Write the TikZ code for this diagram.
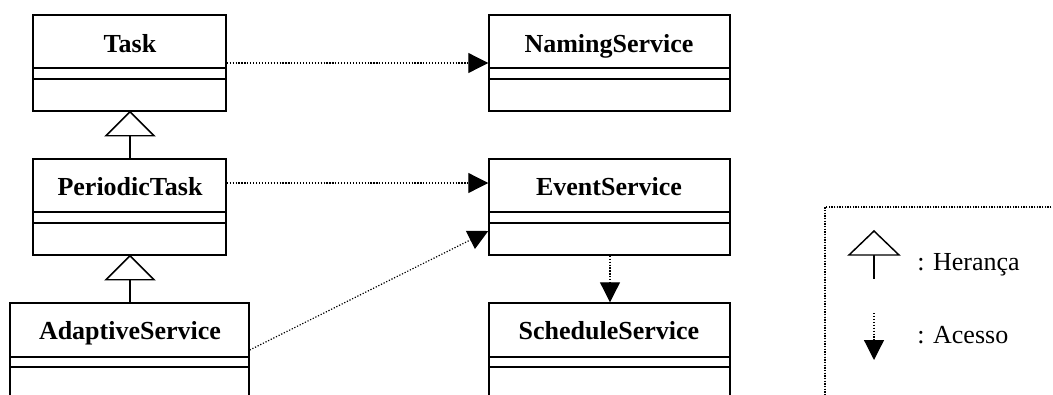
\documentclass[tikz,border=0pt]{standalone}
\usepackage{fontspec}
\setmainfont{Liberation Serif}
\usetikzlibrary{arrows.meta,fit}
\begin{document}
\begin{tikzpicture}[x=0.75pt,y=-0.75pt,
  cls/.style={draw, line width=1.1pt, inner sep=0pt, fit={#1}},
  title/.style={font=\fontsize{19.5}{23}\selectfont\bfseries, anchor=base, inner sep=0pt},
  legtext/.style={font=\fontsize{19.5}{23}\selectfont, anchor=base west, inner sep=0pt},
  div/.style={line width=1.1pt},
  access/.style={line width=0.9pt, dash pattern=on 0.9pt off 1.3pt, -{Triangle[length=15pt,width=15pt]}},
  inherit/.style={line width=1.1pt, fill=white},
  legbox/.style={line width=0.9pt, dash pattern=on 0.9pt off 1.1pt}
]
\useasboundingbox (0,0) rectangle (1053,394);
\clip (0,0) rectangle (1053,394);

% classes
\node[cls={(33,15)(226,111)}] (task) {};
\node[cls={(33,159)(226,255)}] (periodic) {};
\node[cls={(10,303)(249,430)}] (adaptive) {};
\node[cls={(489,15)(730,111)}] (naming) {};
\node[cls={(489,159)(730,255)}] (event) {};
\node[cls={(489,303)(730,430)}] (schedule) {};

% titles
\node[title] (taskT) at (130,52) {Task};
\node[title] (periodicT) at (130,195) {PeriodicTask};
\node[title] (adaptiveT) at (130,339) {AdaptiveService};
\node[title] (namingT) at (609,52) {NamingService};
\node[title] (eventT) at (609,195) {EventService};
\node[title] (scheduleT) at (609,339) {ScheduleService};

% dividers
\foreach \n/\a/\b in {task/68/79, naming/68/79, periodic/212/223, event/212/223, adaptive/357/367, schedule/357/367}{
  \draw[div] (\n.west |- 0,\a) -- (\n.east |- 0,\a);
  \draw[div] (\n.west |- 0,\b) -- (\n.east |- 0,\b);
}

% inheritance
\coordinate (i1) at (130,135);
\coordinate (i2) at (130,279);
\draw[line width=1.1pt] (i1) -- (periodic.north -| i1);
\draw[inherit] (task.south -| i1) -- ++(-24,24) -- ++(48,0) -- cycle;
\draw[line width=1.1pt] (i2) -- (adaptive.north -| i2);
\draw[inherit] (periodic.south -| i2) -- ++(-24,24) -- ++(48,0) -- cycle;

% access
\draw[access] (task.east |- 0,63) -- (naming.west |- 0,63);
\draw[access] (periodic.east |- 0,183) -- (event.west |- 0,183);
\draw[access] (adaptive.east |- 0,350) -- (event.west |- 0,231);
\draw[access] (event.south -| 610,0) -- (schedule.north -| 610,0);

% legend
\node[legbox, draw, inner sep=0pt, fit={(825,207)(1070,410)}] (legend) {};
\coordinate (lt) at (874,231);
\draw[line width=1.1pt] (874,255) -- (874,279);
\draw[inherit] (lt) -- ++(-25,24) -- ++(50,0) -- cycle;
\node[legtext] (herT) at (917,270) {: Heran\c{c}a};
\coordinate (la1) at (874,313);
\coordinate (la2) at (874,360);
\draw[access] (la1) -- (la2);
\node[legtext] (aceT) at (917,343) {: Acesso};
\end{tikzpicture}
\end{document}
